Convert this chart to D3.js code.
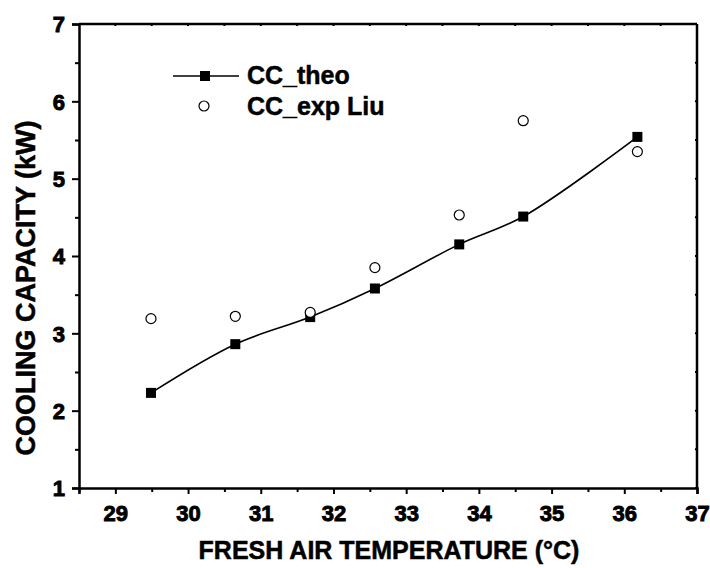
<!DOCTYPE html>
<html>
<head>
<meta charset="utf-8">
<script src="https://cdn.jsdelivr.net/npm/d3@7"></script>
<style>
  body { margin: 0; background: #fff; }
  text { font-family: "Liberation Sans", Arial, sans-serif; font-weight: bold; fill: #000; stroke: #000; stroke-width: 0.5px; }
</style>
</head>
<body>
<svg id="chart"></svg>
<script>
const temps = [29.49, 30.65, 31.68, 32.57, 33.73, 34.61, 36.18];
const ccTheo = [2.23, 2.86, 3.21, 3.58, 4.15, 4.51, 5.54];
const ccExp = [3.19, 3.22, 3.27, 3.85, 4.53, 5.75, 5.35];
const xTicks = [29, 30, 31, 32, 33, 34, 35, 36, 37];
const yTicks = [1, 2, 3, 4, 5, 6, 7];

const width = 710;
const height = 568;
const margin = { top: 24, right: 13, bottom: 80, left: 79 };

const svg = d3.select("#chart")
  .attr("width", width)
  .attr("height", height);

const x = d3.scaleLinear()
  .domain([28.5, 37])
  .range([margin.left, width - margin.right]);

const y = d3.scaleLinear()
  .domain([1, 7])
  .range([height - margin.bottom, margin.top]);

const theo = temps.map((t, i) => ({ t, v: ccTheo[i] }));
const exp = temps.map((t, i) => ({ t, v: ccExp[i] }));

// minor ticks
const xMinor = xTicks.map(d => d - 0.5);
const yMinor = yTicks.slice(1).map(d => d - 0.5);

svg.append("g")
  .attr("transform", `translate(0,${y(1)})`)
  .call(d3.axisBottom(x).tickValues(xMinor).tickSize(4).tickFormat(""))
  .call(g => g.select(".domain").remove())
  .selectAll("line").attr("stroke-width", 2);

svg.append("g")
  .attr("transform", `translate(${x(28.5)},0)`)
  .call(d3.axisLeft(y).tickValues(yMinor).tickSize(4).tickFormat(""))
  .call(g => g.select(".domain").remove())
  .selectAll("line").attr("stroke-width", 2);

const xAxis = svg.append("g")
  .attr("transform", `translate(0,${y(1)})`)
  .call(d3.axisBottom(x).tickValues(xTicks).tickSize(6).tickPadding(11).tickFormat(d3.format("d")));

const yAxis = svg.append("g")
  .attr("transform", `translate(${x(28.5)},0)`)
  .call(d3.axisLeft(y).tickValues(yTicks).tickSize(7).tickPadding(7).tickFormat(d3.format("d")));

[xAxis, yAxis].forEach(g => {
  g.attr("font-family", null).attr("font-size", null);
  g.select(".domain").attr("stroke-width", 2.5);
  g.selectAll(".tick line").attr("stroke-width", 2);
  g.selectAll("text")
    .style("font-family", "'Liberation Sans', Arial, sans-serif")
    .style("font-weight", "bold")
    .style("font-size", "22px")
    .style("stroke", "#000")
    .style("stroke-width", "0.9px");
});
yAxis.selectAll("text").attr("dy", "0.36em");

// top and right frame
svg.append("line")
  .attr("x1", x(28.5)).attr("x2", x(37))
  .attr("y1", y(7)).attr("y2", y(7))
  .attr("stroke", "#000").attr("stroke-width", 2.5);
svg.append("line")
  .attr("x1", x(37)).attr("x2", x(37))
  .attr("y1", y(7)).attr("y2", y(1))
  .attr("stroke", "#000").attr("stroke-width", 2.5);

svg.append("g").selectAll("line")
  .data(xTicks.concat(xMinor))
  .enter().append("line")
  .attr("x1", d => x(d)).attr("x2", d => x(d))
  .attr("y1", y(7)).attr("y2", y(7) + 2)
  .attr("stroke", "#000").attr("stroke-width", 2);

svg.append("g").selectAll("line")
  .data(yTicks.concat(yMinor))
  .enter().append("line")
  .attr("x1", x(37)).attr("x2", x(37) - 2)
  .attr("y1", d => y(d)).attr("y2", d => y(d))
  .attr("stroke", "#000").attr("stroke-width", 2);

// theoretical curve
const line = d3.line()
  .x(d => x(d.t))
  .y(d => y(d.v))
  .curve(d3.curveCatmullRom);

svg.append("path")
  .datum(theo)
  .attr("fill", "none")
  .attr("stroke", "#000")
  .attr("stroke-width", 1.6)
  .attr("d", line);

const sq = 10;
svg.selectAll("rect.theo")
  .data(theo)
  .enter()
  .append("rect")
  .attr("class", "theo")
  .attr("x", d => x(d.t) - sq / 2)
  .attr("y", d => y(d.v) - sq / 2)
  .attr("width", sq)
  .attr("height", sq)
  .attr("fill", "#000");

svg.selectAll("circle.exp")
  .data(exp)
  .enter()
  .append("circle")
  .attr("class", "exp")
  .attr("cx", d => x(d.t))
  .attr("cy", d => y(d.v))
  .attr("r", 5)
  .attr("fill", "#fff")
  .attr("stroke", "#000")
  .attr("stroke-width", 1.2);

// legend
const legend = svg.append("g");
legend.append("line")
  .attr("x1", 173).attr("x2", 239)
  .attr("y1", 76).attr("y2", 76)
  .attr("stroke", "#000").attr("stroke-width", 1.6);
legend.append("rect")
  .attr("x", 205 - sq / 2).attr("y", 76 - sq / 2)
  .attr("width", sq).attr("height", sq)
  .attr("fill", "#000");
legend.append("text")
  .attr("x", 247).attr("y", 84)
  .attr("font-size", 25)
  .text("CC_theo");
legend.append("circle")
  .attr("cx", 204).attr("cy", 106).attr("r", 5)
  .attr("fill", "#fff").attr("stroke", "#000").attr("stroke-width", 1.2);
legend.append("text")
  .attr("x", 247).attr("y", 115)
  .attr("font-size", 25)
  .text("CC_exp Liu");

// axis titles
svg.append("text")
  .attr("x", 389)
  .attr("y", 559)
  .attr("text-anchor", "middle")
  .attr("font-size", 25)
  .text("FRESH AIR TEMPERATURE (°C)");

svg.append("text")
  .attr("transform", "translate(35,288) rotate(-90)")
  .attr("text-anchor", "middle")
  .attr("font-size", 27)
  .text("COOLING CAPACITY (kW)");
</script>
</body>
</html>
